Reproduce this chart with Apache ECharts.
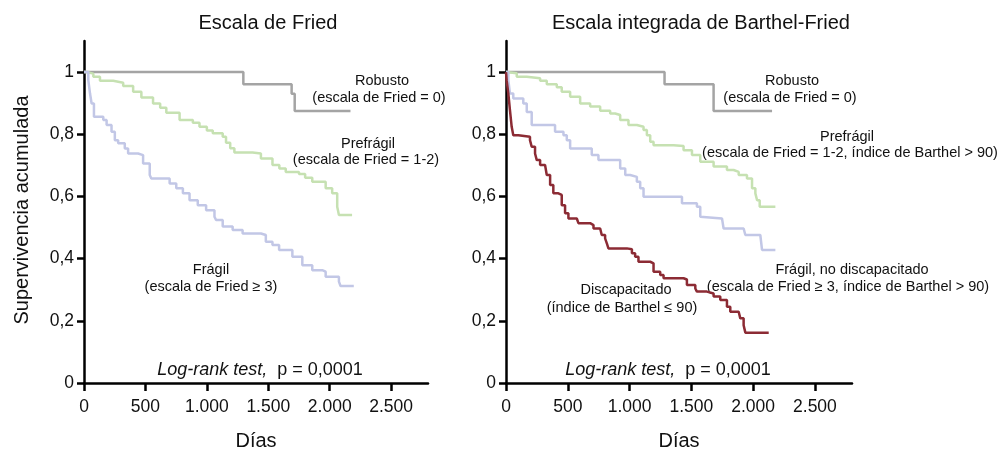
<!DOCTYPE html>
<html>
<head>
<meta charset="utf-8">
<script src="https://cdn.jsdelivr.net/npm/echarts@6/dist/echarts.min.js"></script>
<style>
html,body{margin:0;padding:0;background:#fff;}
#c{width:1001px;height:449px;}
</style>
</head>
<body>
<div id="c"></div>
<script>
// ---- Data (days, cumulative survival after event) ----
var xTicks = [0, 500, 1000, 1500, 2000, 2500];
var yTicks = [0, 0.2, 0.4, 0.6, 0.8, 1];

// Left panel: Escala de Fried
var friedRobusto = [[0,1],[1297,0.961],[1690,0.93],[1715,0.875],[2169,0.875]];
var friedPrefragil = [[0,1],[22,0.995],[76,0.985],[130,0.972],[238,0.966],[319,0.955],[400,0.937],[467,0.918],[562,0.899],[620,0.885],[670,0.869],[778,0.846],[886,0.837],[940,0.824],[1000,0.812],[1048,0.803],[1129,0.792],[1156,0.773],[1190,0.755],[1224,0.741],[1372,0.738],[1440,0.722],[1534,0.701],[1590,0.69],[1642,0.679],[1750,0.672],[1800,0.66],[1858,0.647],[1967,0.626],[2020,0.61],[2061,0.567],[2075,0.54],[2182,0.54]];
var friedFragil = [[0,1],[35,0.974],[49,0.931],[62,0.899],[81,0.856],[157,0.846],[184,0.83],[224,0.808],[251,0.781],[278,0.771],[332,0.754],[359,0.738],[440,0.733],[481,0.706],[535,0.669],[548,0.658],[697,0.642],[751,0.626],[805,0.61],[859,0.588],[926,0.572],[994,0.556],[1062,0.535],[1075,0.524],[1129,0.503],[1210,0.492],[1291,0.481],[1440,0.476],[1480,0.454],[1534,0.444],[1588,0.428],[1696,0.406],[1777,0.379],[1858,0.363],[1939,0.358],[1967,0.342],[2075,0.326],[2088,0.312],[2196,0.312]];

// Right panel: Escala integrada de Barthel-Fried
var bfRobusto = [[0,1],[1283,0.961],[1680,0.875],[2153,0.875]];
var bfPrefragil = [[0,1],[5,0.996],[87,0.985],[168,0.98],[276,0.972],[330,0.961],[411,0.951],[451,0.937],[519,0.921],[600,0.899],[681,0.889],[762,0.876],[843,0.867],[883,0.862],[924,0.846],[991,0.83],[1059,0.824],[1113,0.814],[1140,0.797],[1167,0.776],[1194,0.765],[1356,0.762],[1437,0.749],[1505,0.733],[1572,0.712],[1680,0.696],[1788,0.685],[1842,0.679],[1883,0.669],[1950,0.658],[1991,0.626],[2018,0.61],[2032,0.588],[2053,0.567],[2180,0.567]];
var bfFragil = [[0,1],[19,0.974],[32,0.931],[59,0.915],[140,0.899],[168,0.872],[208,0.83],[397,0.808],[465,0.797],[492,0.781],[519,0.754],[694,0.733],[748,0.717],[924,0.69],[965,0.669],[1005,0.663],[1059,0.647],[1086,0.626],[1113,0.599],[1424,0.578],[1545,0.567],[1572,0.535],[1586,0.529],[1748,0.524],[1761,0.497],[1923,0.492],[1937,0.476],[2058,0.47],[2072,0.428],[2180,0.428]];
var bfDiscapacitado = [[0,1],[5,0.974],[19,0.931],[32,0.878],[46,0.824],[59,0.797],[100,0.792],[194,0.781],[208,0.76],[235,0.738],[249,0.717],[276,0.701],[316,0.696],[330,0.669],[357,0.637],[383,0.61],[424,0.605],[451,0.572],[478,0.546],[505,0.529],[573,0.524],[586,0.514],[681,0.508],[708,0.497],[762,0.492],[775,0.476],[802,0.465],[816,0.449],[829,0.433],[978,0.43],[1019,0.417],[1045,0.406],[1072,0.39],[1167,0.385],[1194,0.358],[1248,0.347],[1275,0.337],[1437,0.333],[1464,0.315],[1532,0.304],[1545,0.294],[1626,0.288],[1680,0.278],[1734,0.267],[1788,0.245],[1815,0.229],[1883,0.224],[1896,0.208],[1923,0.186],[1937,0.162],[2126,0.162]];

var titles = ['Escala de Fried', 'Escala integrada de Barthel-Fried'];
var xName = 'Días';
var yName = 'Supervivencia acumulada';
var logRank = 'p = 0,0001';

// ---- Chart ----
var FONT = '"Liberation Sans", Arial, Helvetica, sans-serif';
var chart = echarts.init(document.getElementById('c'), null, {renderer: 'canvas'});

function xAxisCfg(gi) {
  return {
    type: 'value', gridIndex: gi, min: 0, max: 2800,
    axisLine: {show: true, lineStyle: {color: '#000', width: 2.5}},
    axisTick: {show: true, customValues: xTicks, length: 8, lineStyle: {color: '#000', width: 2.5}},
    axisLabel: {customValues: xTicks, color: '#111', fontSize: 17.5, fontFamily: FONT, margin: 15,
      formatter: function (v) { return v >= 1000 ? String(v).replace(/(\d)(\d{3})$/, '$1.$2') : String(v); }},
    splitLine: {show: false}
  };
}
function yAxisCfg(gi) {
  return {
    type: 'value', gridIndex: gi, min: 0, max: 1.1,
    axisLine: {show: true, lineStyle: {color: '#000', width: 2.5}},
    axisTick: {show: true, customValues: yTicks, length: 7, lineStyle: {color: '#000', width: 2.5}},
    axisLabel: {customValues: yTicks, color: '#111', fontSize: 17.5, fontFamily: FONT, margin: 10,
      formatter: function (v) { return (v === 0 || v === 1) ? String(v) : v.toFixed(1).replace('.', ','); }},
    splitLine: {show: false}
  };
}
function line(data, gi, color, w) {
  return {type: 'line', xAxisIndex: gi, yAxisIndex: gi, data: data, step: 'end', symbol: 'none',
    lineStyle: {color: color, width: w}, silent: true, animation: false, z: 3};
}
function txt(x, y, s, size, extra) {
  var st = {text: s, x: x, y: y, fill: '#111', font: size + 'px ' + FONT, textAlign: 'center', textVerticalAlign: 'middle'};
  if (extra) for (var k in extra) st[k] = extra[k];
  return {type: 'text', style: st, silent: true};
}

var GRAY = '#a4a4a4', GREEN = '#c6e1b2', BLUE = '#c2c7e6', RED = '#8c2b34';

var option = {
  animation: false,
  backgroundColor: '#fff',
  grid: [
    {left: 84, top: 41, width: 344, height: 342, containLabel: false},
    {left: 506, top: 41, width: 346, height: 342, containLabel: false}
  ],
  xAxis: [xAxisCfg(0), xAxisCfg(1)],
  yAxis: [yAxisCfg(0), yAxisCfg(1)],
  series: [
    line(friedRobusto, 0, GRAY, 2.5),
    line(friedPrefragil, 0, GREEN, 2.5),
    line(friedFragil, 0, BLUE, 2.5),
    line(bfRobusto, 1, GRAY, 2.5),
    line(bfPrefragil, 1, GREEN, 2.5),
    line(bfFragil, 1, BLUE, 2.5),
    line(bfDiscapacitado, 1, RED, 2.5)
  ],
  graphic: [
    txt(268, 23, titles[0], 20),
    txt(701, 23, titles[1], 20),
    txt(256, 441, xName, 20),
    txt(679, 441, xName, 20),
    {type: 'text', x: 22, y: 210, rotation: Math.PI / 2, silent: true,
      style: {text: yName, fill: '#111', font: '20px ' + FONT, textAlign: 'center', textVerticalAlign: 'middle'}},
    // left annotations
    txt(382, 81, 'Robusto', 14.5),
    txt(379, 98, '(escala de Fried = 0)', 14.5),
    txt(368, 144, 'Prefrágil', 14.5),
    txt(366, 160, '(escala de Fried = 1-2)', 14.5),
    txt(211, 270, 'Frágil', 14.5),
    txt(211, 287, '(escala de Fried ≥ 3)', 14.5),
    // right annotations
    txt(792, 81, 'Robusto', 14.5),
    txt(790, 98, '(escala de Fried = 0)', 14.5),
    txt(847, 137, 'Prefrágil', 14.5),
    txt(850, 153, '(escala de Fried = 1-2, índice de Barthel > 90)', 14.5),
    txt(852, 270, 'Frágil, no discapacitado', 14.5),
    txt(848, 287, '(escala de Fried ≥ 3, índice de Barthel > 90)', 14.5),
    txt(626, 290, 'Discapacitado', 14.5),
    txt(622, 308, '(índice de Barthel ≤ 90)', 14.5),
    // log-rank
    {type: 'text', x: 260, y: 370, silent: true, style: {
      text: '{i|Log-rank test,}  ' + logRank, fill: '#111', font: '18px ' + FONT,
      textAlign: 'center', textVerticalAlign: 'middle',
      rich: {i: {fontStyle: 'italic', fontSize: 18, fontFamily: FONT, fill: '#111'}}}},
    {type: 'text', x: 668, y: 370, silent: true, style: {
      text: '{i|Log-rank test,}  ' + logRank, fill: '#111', font: '18px ' + FONT,
      textAlign: 'center', textVerticalAlign: 'middle',
      rich: {i: {fontStyle: 'italic', fontSize: 18, fontFamily: FONT, fill: '#111'}}}}
  ]
};
chart.setOption(option);
</script>
</body>
</html>
